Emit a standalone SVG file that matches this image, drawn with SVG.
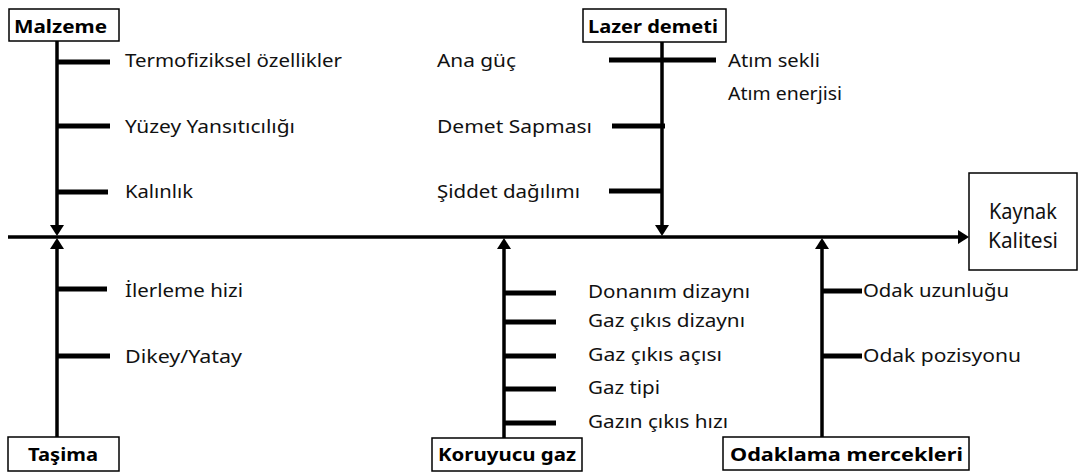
<svg xmlns="http://www.w3.org/2000/svg" width="1078" height="474" viewBox="0 0 1078 474">
<style>
  .bg{fill:#ffffff}
  .box{fill:#ffffff;stroke:#000;stroke-width:1.5}
  .t{font-family:"Noto Sans","Open Sans",sans-serif;font-size:18.5px;fill:#111}
  .k{font-family:"Noto Sans","Open Sans",sans-serif;font-size:21px;fill:#111}
  .b{font-family:"Noto Sans","Open Sans",sans-serif;font-size:18px;font-weight:bold;fill:#000}
  .spine{stroke:#000;stroke-width:3.5;fill:none}
  .rib{stroke:#000;stroke-width:5;fill:none}
</style>
<defs>
  <marker id="ah" viewBox="0 0 11 14" refX="6" refY="7" markerWidth="11" markerHeight="14" orient="auto" markerUnits="userSpaceOnUse">
    <path d="M0,0 L11,7 L0,14 Z" fill="#000"/>
  </marker>
</defs>
<rect class="bg" x="0" y="0" width="1078" height="474"/>

<g id="connectors">
  <line class="spine" x1="8" y1="237" x2="964" y2="237" marker-end="url(#ah)"/>
  <line class="spine" x1="57" y1="40" x2="57" y2="231" marker-end="url(#ah)"/>
  <line class="spine" x1="662" y1="42" x2="662" y2="231" marker-end="url(#ah)"/>
  <line class="spine" x1="57" y1="437" x2="57" y2="243" marker-end="url(#ah)"/>
  <line class="spine" x1="504" y1="438" x2="504" y2="243" marker-end="url(#ah)"/>
  <line class="spine" x1="822" y1="437" x2="822" y2="243" marker-end="url(#ah)"/>
  <line class="rib" x1="57" y1="62" x2="110" y2="62"/>
  <line class="rib" x1="57" y1="126" x2="110" y2="126"/>
  <line class="rib" x1="57" y1="192" x2="108" y2="192"/>
  <line class="rib" x1="609" y1="60" x2="716" y2="60"/>
  <line class="rib" x1="612" y1="126" x2="665" y2="126"/>
  <line class="rib" x1="609" y1="191" x2="662" y2="191"/>
  <line class="rib" x1="57" y1="289" x2="107" y2="289"/>
  <line class="rib" x1="57" y1="356" x2="110" y2="356"/>
  <line class="rib" x1="504" y1="293" x2="556" y2="293"/>
  <line class="rib" x1="504" y1="322" x2="556" y2="322"/>
  <line class="rib" x1="504" y1="356" x2="556" y2="356"/>
  <line class="rib" x1="504" y1="389" x2="556" y2="389"/>
  <line class="rib" x1="504" y1="423" x2="556" y2="423"/>
  <line class="rib" x1="822" y1="291" x2="862" y2="291"/>
  <line class="rib" x1="822" y1="356" x2="862" y2="356"/>
</g>

<g id="malzeme">
  <rect class="box" x="9" y="9" width="110" height="32"/>
  <text class="b" x="14" y="33" textLength="93" lengthAdjust="spacingAndGlyphs">Malzeme</text>
  <text class="t" x="125" y="67" textLength="217" lengthAdjust="spacingAndGlyphs">Termofiziksel özellikler</text>
  <text class="t" x="125" y="133" textLength="170" lengthAdjust="spacingAndGlyphs">Yüzey Yansıtıcılığı</text>
  <text class="t" x="125" y="198" textLength="68" lengthAdjust="spacingAndGlyphs">Kalınlık</text>
</g>

<g id="lazer-demeti">
  <rect class="box" x="583" y="9" width="143" height="33"/>
  <text class="b" x="588" y="33" textLength="130" lengthAdjust="spacingAndGlyphs">Lazer demeti</text>
  <text class="t" x="437" y="67" textLength="79" lengthAdjust="spacingAndGlyphs">Ana güç</text>
  <text class="t" x="437" y="133" textLength="155" lengthAdjust="spacingAndGlyphs">Demet Sapması</text>
  <text class="t" x="437" y="198" textLength="143" lengthAdjust="spacingAndGlyphs">Şiddet dağılımı</text>
  <text class="t" x="728" y="67" textLength="92" lengthAdjust="spacingAndGlyphs">Atım sekli</text>
  <text class="t" x="728" y="100" textLength="114" lengthAdjust="spacingAndGlyphs">Atım enerjisi</text>
</g>

<g id="kaynak-kalitesi">
  <rect class="box" x="969" y="173" width="108" height="97"/>
  <text class="k" x="989" y="219" textLength="68" lengthAdjust="spacingAndGlyphs">Kaynak</text>
  <text class="k" x="988" y="248" textLength="70" lengthAdjust="spacingAndGlyphs">Kalitesi</text>
</g>

<g id="tasima">
  <rect class="box" x="8" y="437" width="111" height="34"/>
  <text class="b" x="28" y="461" textLength="70" lengthAdjust="spacingAndGlyphs">Taşima</text>
  <text class="t" x="125" y="297" textLength="118" lengthAdjust="spacingAndGlyphs">İlerleme hizi</text>
  <text class="t" x="125" y="363" textLength="117" lengthAdjust="spacingAndGlyphs">Dikey/Yatay</text>
</g>

<g id="koruyucu-gaz">
  <rect class="box" x="432" y="438" width="150" height="33"/>
  <text class="b" x="438" y="461" textLength="138" lengthAdjust="spacingAndGlyphs">Koruyucu gaz</text>
  <text class="t" x="588" y="298" textLength="162" lengthAdjust="spacingAndGlyphs">Donanım dizaynı</text>
  <text class="t" x="588" y="327" textLength="157" lengthAdjust="spacingAndGlyphs">Gaz çıkıs dizaynı</text>
  <text class="t" x="588" y="361" textLength="134" lengthAdjust="spacingAndGlyphs">Gaz çıkıs açısı</text>
  <text class="t" x="588" y="394" textLength="72" lengthAdjust="spacingAndGlyphs">Gaz tipi</text>
  <text class="t" x="588" y="428" textLength="140" lengthAdjust="spacingAndGlyphs">Gazın çıkıs hızı</text>
</g>

<g id="odaklama-mercekleri">
  <rect class="box" x="723" y="437" width="246" height="33"/>
  <text class="b" x="730" y="461" textLength="233" lengthAdjust="spacingAndGlyphs">Odaklama mercekleri</text>
  <text class="t" x="863" y="297" textLength="146" lengthAdjust="spacingAndGlyphs">Odak uzunluğu</text>
  <text class="t" x="863" y="362" textLength="158" lengthAdjust="spacingAndGlyphs">Odak pozisyonu</text>
</g>
</svg>
